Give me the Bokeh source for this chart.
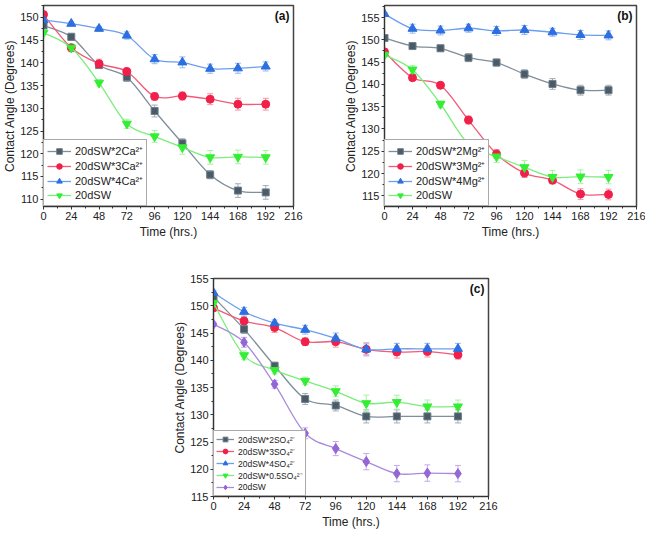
import numpy as np
from bokeh.plotting import figure
from bokeh.models import (ColumnDataSource, Whisker, TeeHead, FixedTicker,
                          SingleIntervalTicker, Legend, LegendItem, Label, Spacer, Range1d)
from bokeh.layouts import row, column
from bokeh.embed import file_html
from bokeh.resources import INLINE

# ---------------- data ----------------
time_hrs = [0, 24, 48, 72, 96, 120, 144, 168, 192]
x_ticks = [0, 24, 48, 72, 96, 120, 144, 168, 192, 216]
x_minor = [12, 36, 60, 84, 108, 132, 156, 180, 204]

# 20dSW (common to all panels)
dsw = [146.6, 143.3, 135.6, 126.6, 123.8, 121.4, 119.2, 119.3, 119.2]
dsw_err = [0.4, 0.9, 0.7, 1.0, 1.3, 1.5, 1.5, 1.5, 1.5]

# panel (a) - Ca2+
ca2 = [148.2, 145.7, 139.5, 136.8, 129.4, 122.3, 115.4, 111.9, 111.5]
ca2_err = [0.6, 0.8, 0.6, 0.9, 1.3, 1.0, 0.9, 1.5, 1.5]
ca3 = [150.6, 143.3, 139.8, 138.1, 132.6, 132.7, 132.0, 130.9, 130.9]
ca3_err = [0.5, 0.7, 1.0, 0.6, 0.8, 0.9, 1.2, 1.3, 1.3]
ca4 = [149.4, 148.6, 147.5, 146.0, 140.8, 140.1, 138.7, 138.8, 139.2]
ca4_err = [0.5, 0.4, 0.5, 0.8, 1.0, 1.2, 1.0, 1.1, 1.0]

# panel (b) - Mg2+
mg2 = [150.4, 148.6, 148.1, 146.0, 144.9, 142.3, 140.1, 138.7, 138.7]
mg2_err = [0.6, 0.5, 0.7, 0.9, 0.8, 1.0, 1.2, 1.1, 1.1]
mg3 = [147.3, 141.5, 139.8, 132.0, 124.4, 120.1, 118.5, 115.4, 115.3]
mg3_err = [0.5, 0.6, 0.6, 0.9, 1.0, 1.0, 0.8, 1.2, 1.2]
mg4 = [155.8, 152.5, 152.1, 152.6, 152.0, 152.2, 151.7, 151.1, 151.0]
mg4_err = [0.3, 1.0, 1.0, 0.9, 1.0, 1.0, 0.9, 1.0, 1.0]

# panel (c) - SO4 2-
so2 = [151.6, 145.7, 139.0, 132.9, 131.7, 129.7, 129.7, 129.7, 129.7]
so2_err = [0.6, 0.8, 0.6, 1.0, 1.0, 1.2, 1.2, 1.2, 1.2]
so3 = [149.6, 147.2, 146.0, 143.4, 143.4, 142.0, 141.5, 141.6, 141.0]
so3_err = [0.5, 0.8, 0.9, 0.7, 1.0, 1.2, 1.1, 1.0, 0.8]
so4 = [152.4, 148.9, 146.8, 145.6, 144.0, 142.0, 142.1, 142.1, 142.1]
so4_err = [0.4, 0.8, 0.6, 0.8, 1.0, 1.0, 1.0, 1.0, 1.0]
so05 = [150.5, 140.9, 138.2, 136.2, 134.3, 132.1, 132.3, 131.5, 131.5]
so05_err = [0.4, 0.8, 0.7, 0.7, 1.0, 1.5, 1.3, 1.2, 1.2]

labels_a = ["20dSW*2Ca²⁺", "20dSW*3Ca²⁺", "20dSW*4Ca²⁺", "20dSW"]
labels_b = ["20dSW*2Mg²⁺", "20dSW*3Mg²⁺", "20dSW*4Mg²⁺", "20dSW"]
labels_c = ["20dSW*2SO₄²⁻", "20dSW*3SO₄²⁻", "20dSW*4SO₄²⁻", "20dSW*0.5SO₄²⁻", "20dSW"]

# ---------------- styles ----------------
STY = {
    "gray":   dict(marker="square", size=7, fill="#4a5a66", edge="#6f7f8b", curve="#7f8e9a", err="#a3adb6"),
    "red":    dict(marker="circle", size=8, fill="#f0204a", edge="#f0204a", curve="#f25a78", err="#f596a6"),
    "blue":   dict(marker="triangle", size=9, fill="#2d6fe0", edge="#2d6fe0", curve="#6c9ef0", err="#93b8f2"),
    "green":  dict(marker="inverted_triangle", size=9, fill="#33ee33", edge="#33ee33", curve="#7aee7a", err="#a4f2a4"),
    "purple": dict(marker="diamond", size=10, fill="#9566d6", edge="#9566d6", curve="#a98ae0", err="#c2aaea"),
}
FONT = "Liberation Sans"


def bez_controls(xs, ys):
    x = np.asarray(xs, float)
    y = np.asarray(ys, float)
    n = len(x)
    xp = np.concatenate([[x[0]], x, [x[-1]]])
    yp = np.concatenate([[y[0]], y, [y[-1]]])
    d = {"x0": [], "y0": [], "x1": [], "y1": [], "cx0": [], "cy0": [], "cx1": [], "cy1": []}
    for i in range(n - 1):
        p0x, p0y = xp[i], yp[i]
        p1x, p1y = xp[i + 1], yp[i + 1]
        p2x, p2y = xp[i + 2], yp[i + 2]
        p3x, p3y = xp[i + 3], yp[i + 3]
        d["x0"].append(p1x); d["y0"].append(p1y)
        d["x1"].append(p2x); d["y1"].append(p2y)
        d["cx0"].append(p1x + (p2x - p0x) / 6.0); d["cy0"].append(p1y + (p2y - p0y) / 6.0)
        d["cx1"].append(p2x - (p3x - p1x) / 6.0); d["cy1"].append(p2y - (p3y - p1y) / 6.0)
    return d


def make_panel(series, y_lo, y_hi, tag, width, height, borders, legend_cfg):
    bl, br, bt, bb = borders
    p = figure(width=width, height=height, output_backend="svg", toolbar_location=None,
               title=None,
               x_range=Range1d(0, 216), y_range=Range1d(y_lo, y_hi),
               min_border_left=bl, min_border_right=br, min_border_top=bt, min_border_bottom=bb)
    p.outline_line_color = "#444444"
    p.outline_line_width = 1.5
    p.xgrid.visible = False
    p.ygrid.visible = False
    p.xaxis.ticker = FixedTicker(ticks=x_ticks, minor_ticks=x_minor)
    p.yaxis.ticker = SingleIntervalTicker(interval=5, num_minor_ticks=2)
    for ax in (p.xaxis[0], p.yaxis[0]):
        ax.axis_line_color = "#333333"
        ax.major_tick_line_color = "#333333"
        ax.minor_tick_line_color = "#333333"
        ax.major_tick_in = 0
        ax.major_tick_out = 3
        ax.minor_tick_in = 0
        ax.minor_tick_out = 2
        ax.major_label_text_font = FONT
        ax.major_label_text_font_size = "11px"
        ax.major_label_text_color = "#222222"
        ax.major_label_standoff = 2
        ax.axis_label_text_font = FONT
        ax.axis_label_text_font_size = "12px"
        ax.axis_label_text_font_style = "normal"
        ax.axis_label_text_color = "#222222"
        ax.axis_label_standoff = 2
    p.yaxis.axis_label_standoff = 0
    p.xaxis.axis_label = "Time (hrs.)"
    p.yaxis.axis_label = "Contact Angle (Degrees)"

    items = []
    for (vals, errs, key, lab) in series:
        s = STY[key]
        src = ColumnDataSource(dict(x=time_hrs, y=vals,
                                    up=[v + e for v, e in zip(vals, errs)],
                                    lo=[v - e for v, e in zip(vals, errs)]))
        w = Whisker(base="x", upper="up", lower="lo", source=src, dimension="height",
                    line_color=s["err"], line_width=1,
                    upper_head=TeeHead(size=6, line_color=s["err"], line_width=1),
                    lower_head=TeeHead(size=6, line_color=s["err"], line_width=1))
        p.add_layout(w)
        bsrc = ColumnDataSource(bez_controls(time_hrs, vals))
        b = p.bezier(x0="x0", y0="y0", x1="x1", y1="y1", cx0="cx0", cy0="cy0",
                     cx1="cx1", cy1="cy1", source=bsrc, line_color=s["curve"], line_width=1.3)
        sc = p.scatter(x="x", y="y", source=src, marker=s["marker"], size=s["size"],
                       fill_color=s["fill"], line_color=s["edge"], line_width=1)
        items.append(LegendItem(label=lab, renderers=[b, sc]))

    fs, gw, lh, pad = legend_cfg
    leg = Legend(items=items, location="bottom_left", margin=0, padding=pad, spacing=0,
                 glyph_width=gw, glyph_height=lh, label_height=lh, label_standoff=4,
                 label_text_font=FONT, label_text_font_size=fs, label_text_color="#222222",
                 border_line_color="#555555", border_line_width=1,
                 background_fill_color="white", background_fill_alpha=1)
    p.add_layout(leg, "center")

    p.add_layout(Label(x=216, y=y_hi, x_offset=-4, y_offset=-3, text=tag,
                       text_align="right", text_baseline="top", text_font=FONT,
                       text_font_size="12px", text_font_style="bold", text_color="#111111"))
    return p


fa = make_panel([(ca2, ca2_err, "gray", labels_a[0]),
                 (ca3, ca3_err, "red", labels_a[1]),
                 (ca4, ca4_err, "blue", labels_a[2]),
                 (dsw, dsw_err, "green", labels_a[3])],
                108.4, 152.6, "(a)", 303, 246, (35, 10, 1, 40), ("11px", 24, 14, 3))

fb = make_panel([(mg2, mg2_err, "gray", labels_b[0]),
                 (mg3, mg3_err, "red", labels_b[1]),
                 (mg4, mg4_err, "blue", labels_b[2]),
                 (dsw, dsw_err, "green", labels_b[3])],
                112.6, 157.7, "(b)", 342, 246, (81, 9, 5, 36), ("11px", 24, 14, 3))

fc = make_panel([(so2, so2_err, "gray", labels_c[0]),
                 (so3, so3_err, "red", labels_c[1]),
                 (so4, so4_err, "blue", labels_c[2]),
                 (so05, so05_err, "green", labels_c[3]),
                 (dsw, dsw_err, "purple", labels_c[4])],
                115, 155, "(c)", 342, 286, (45, 22, 32, 36), ("8.5px", 18, 12, 2))

layout = column(row(fa, fb), row(Spacer(width=168, height=286), fc))

open("out.html", "w").write(file_html(layout, INLINE))
